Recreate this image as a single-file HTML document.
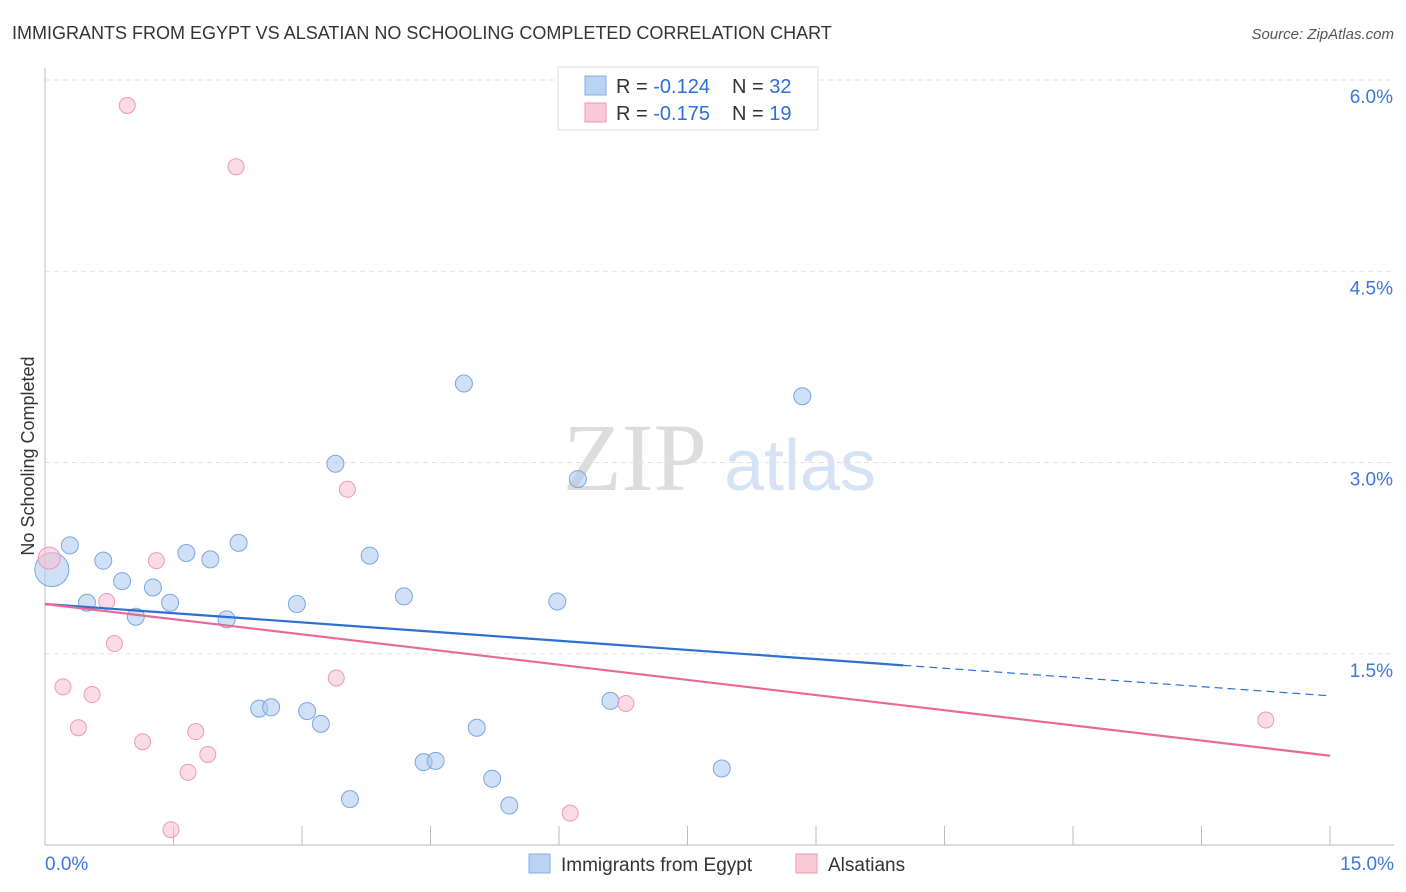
<!DOCTYPE html>
<html><head><meta charset="utf-8"><style>
body{margin:0;background:#fff;font-family:"Liberation Sans",sans-serif;}
svg{display:block}
</style></head><body>
<svg id="chart" width="1406" height="892">
<text x="12" y="39" font-size="18" fill="#333">IMMIGRANTS FROM EGYPT VS ALSATIAN NO SCHOOLING COMPLETED CORRELATION CHART</text>
<text x="1394" y="39" font-size="15" fill="#555" text-anchor="end" font-style="italic">Source: ZipAtlas.com</text>
<text x="34" y="456" font-size="18" fill="#333" text-anchor="middle" transform="rotate(-90 34 456)">No Schooling Completed</text>
<g><text x="635" y="490" font-size="96" fill="#ddd" text-anchor="middle" font-family="Liberation Serif,serif">ZIP</text><text x="800" y="490" font-size="72" fill="#d5e3f5" text-anchor="middle">atlas</text></g>
<g id="grid"></g><g id="marks"></g>
<g>
<rect x="558" y="67" width="260" height="63" fill="#fff" stroke="#ddd"/>
<rect x="585" y="76" width="21" height="19" fill="#b9d3f5" stroke="#88aee6"/>
<rect x="585" y="103" width="21" height="19" fill="#fac9d7" stroke="#ee9ab4"/>
<text x="616" y="93" font-size="20" fill="#333">R = <tspan fill="#2d6fd6">-0.124</tspan><tspan x="732">N = </tspan><tspan fill="#2d6fd6">32</tspan></text>
<text x="616" y="120" font-size="20" fill="#333">R = <tspan fill="#2d6fd6">-0.175</tspan><tspan x="732">N = </tspan><tspan fill="#2d6fd6"> 19</tspan></text>
</g>
<g>
<rect x="529" y="854" width="21" height="19" fill="#b9d3f5" stroke="#88aee6"/>
<text x="561" y="871" font-size="19" fill="#333">Immigrants from Egypt</text>
<rect x="796" y="854" width="21" height="19" fill="#fac9d7" stroke="#ee9ab4"/>
<text x="828" y="871" font-size="19" fill="#333">Alsatians</text>
</g>
</svg>
<script>
const yTicks=[1.5,3.0,4.5,6.0];
const xTickLabels=["0.0%","15.0%"];
const blueX=[0.08,0.29,0.49,0.68,0.90,1.06,1.26,1.46,1.65,1.93,2.12,2.26,2.50,2.64,2.94,3.06,3.22,3.39,3.56,3.79,4.19,4.42,4.56,4.89,5.04,5.22,5.42,5.98,6.22,6.60,7.90,8.84];
const blueY=[2.16,2.35,1.90,2.23,2.07,1.79,2.02,1.90,2.29,2.24,1.77,2.37,1.07,1.08,1.89,1.05,0.95,2.99,0.36,2.27,1.95,0.65,0.66,3.62,0.92,0.52,0.31,1.91,2.87,1.13,0.60,3.52];
const pinkX=[0.05,0.96,2.23,3.53,1.30,0.72,0.81,0.21,0.55,0.39,1.14,1.76,1.90,1.67,1.47,3.40,6.13,6.78,14.25];
const pinkY=[2.25,5.80,5.32,2.79,2.23,1.91,1.58,1.24,1.18,0.92,0.81,0.89,0.71,0.57,0.12,1.31,0.25,1.11,0.98];
const blueTrend=[1.89,1.17];const blueSolidEnd=10.02;
const pinkTrend=[1.89,0.70];
const NS='http://www.w3.org/2000/svg';
const sx=v=>45+v*1285/15, sy=v=>845-v*127.5;
const grid=document.getElementById('grid'),marks=document.getElementById('marks');
function mk(p,tag,a){const e=document.createElementNS(NS,tag);for(const k in a)e.setAttribute(k,a[k]);p.appendChild(e);return e;}
yTicks.forEach(t=>{
const l=mk(grid,'line',{x1:45,x2:1394,y1:sy(t),y2:sy(t),stroke:'#e2e2e2','stroke-dasharray':'5,4'});


const tx=mk(grid,'text',{x:1393,y:sy(t)+23,'font-size':19,fill:'#3b78d8','text-anchor':'end'});tx.textContent=t.toFixed(1)+'%';


});
mk(grid,'line',{x1:45,x2:45,y1:68,y2:845,stroke:'#bbb'});
mk(grid,'line',{x1:45,x2:1394,y1:845,y2:845,stroke:'#bbb'});
for(let i=0;i<=10;i++){const x=sx(i*1.5);const t=mk(grid,'line',{x1:x,x2:x,y1:826,y2:845,stroke:'#bbb'});

}
const xl0=mk(grid,'text',{x:45,y:870,'font-size':19,fill:'#3b78d8'});xl0.textContent=xTickLabels[0];


const xl1=mk(grid,'text',{x:1394,y:870,'font-size':19,fill:'#3b78d8','text-anchor':'end'});xl1.textContent=xTickLabels[1];


blueX.forEach((x,i)=>{const c=mk(marks,'circle',{cx:sx(x),cy:sy(blueY[i]),r:i==0?17:8.5,fill:'rgba(170,200,240,0.55)',stroke:'#7aa6e0','stroke-width':1});

});
pinkX.forEach((x,i)=>{const c=mk(marks,'circle',{cx:sx(x),cy:sy(pinkY[i]),r:i==0?11:8,fill:'rgba(248,190,208,0.55)',stroke:'#ec9ab5','stroke-width':1});

});
const bAt=v=>blueTrend[0]+(blueTrend[1]-blueTrend[0])*v/15;
const b1=mk(marks,'line',{x1:sx(0),y1:sy(bAt(0)),x2:sx(blueSolidEnd),y2:sy(bAt(blueSolidEnd)),stroke:'#2a6fd6','stroke-width':2.2});


const b2=mk(marks,'line',{x1:sx(blueSolidEnd),y1:sy(bAt(blueSolidEnd)),x2:sx(15),y2:sy(bAt(15)),stroke:'#2a6fd6','stroke-width':1.2,'stroke-dasharray':'8,5'});


const p1=mk(marks,'line',{x1:sx(0),y1:sy(pinkTrend[0]),x2:sx(15),y2:sy(pinkTrend[1]),stroke:'#e8689a','stroke-width':2.2});


</script>
</body></html>
